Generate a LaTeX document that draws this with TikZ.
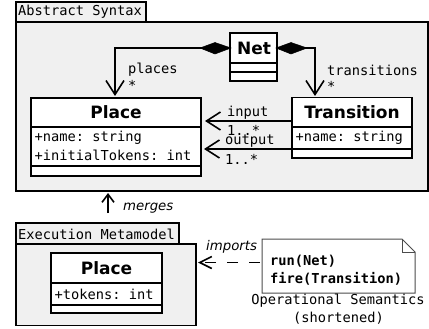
\documentclass[tikz,border=0pt]{standalone}
\usepackage{fontspec}
\setmainfont{DejaVu Sans}
\setmonofont{DejaVu Sans Mono}
\usetikzlibrary{arrows.meta,calc}
\definecolor{pkgfill}{gray}{0.94}
\tikzset{
  x=1pt,y=-1pt,
  pkg/.style={draw=black,line width=1.6pt,fill=pkgfill},
  cls/.style={draw=black,line width=1.6pt,fill=white},
  rule/.style={line width=1.6pt},
  assoc/.style={line width=1.6pt,-{Straight Barb[length=14pt,width=18pt,line width=1.6pt]}},
  dia/.style={fill=black,draw=black,line width=.5pt},
  lab/.style={font=\ttfamily\fontsize{13.7}{15}\selectfont,inner sep=0pt,anchor=west},
  ttl/.style={font=\bfseries\fontsize{17}{19}\selectfont,inner sep=0pt},
  it/.style={font=\itshape\fontsize{13.3}{15}\selectfont,inner sep=0pt},
}
\begin{document}
\begin{tikzpicture}
\useasboundingbox (0,0) rectangle (429,329);
% packages
\draw[pkg] (16,22) rectangle (428,191);
\draw[pkg] (16,2) rectangle (146,22);
\node[lab] (abs) at (18,12) {Abstract Syntax};
\draw[pkg] (16,244) rectangle (196,325.5);
\draw[pkg] (16,223) rectangle (179,244);
\node[lab] (exe) at (18,234) {Execution Metamodel};
% Net
\draw[cls] (230,33) rectangle (277,81);
\draw[rule] (230,63) -- (277,63) (230,72) -- (277,72);
\node[ttl] (net) at (254,48) {Net};
\coordinate (netL) at (230,48);
\coordinate (netR) at (277,48);
% Place
\draw[cls] (31,98) rectangle (201,176);
\draw[rule] (31,127) -- (201,127) (31,166) -- (201,166);
\node[ttl] (place) at (116,112.5) {Place};
\node[lab] (pa) at (34.5,138) {+name: string};
\node[lab] (pb) at (34.5,155) {+initialTokens: int};
% Transition
\draw[cls] (292,97.5) rectangle (412,158);
\draw[rule] (292,127) -- (412,127) (292,149) -- (412,149);
\node[ttl] (trans) at (352,112.5) {Transition};
\node[lab] (ta) at (295.5,138) {+name: string};
% Place 2
\draw[cls] (51,253) rectangle (162,313);
\draw[rule] (51,283) -- (162,283) (51,305) -- (162,305);
\node[ttl] (placeb) at (106.5,268) {Place};
\node[lab] (pc) at (54.5,294) {+tokens: int};
% Note
\draw[draw=black!70!white,line width=1pt,fill=white] (262,239) -- (402,239) -- (415,252) -- (415,293) -- (262,293) -- cycle;
\draw[draw=black!70!white,line width=1pt] (402,239) -- (402,252) -- (415,252);
\node[lab,font=\ttfamily\bfseries\fontsize{13.7}{15}\selectfont] (run) at (270,261) {run(Net)};
\node[lab,font=\ttfamily\bfseries\fontsize{13.7}{15}\selectfont] (fire) at (270,278.5) {fire(Transition)};
\node[lab,anchor=center] (os) at (338,301) {Operational Semantics};
\node[lab,anchor=center] (sh) at (338.5,318) {(shortened)};
% compositions
\coordinate (placeT) at (115,96);
\coordinate (transT) at (315,96);
\draw[assoc] (netL) -- (115,48) -- (placeT);
\draw[assoc] (netR) -- (315,48) -- (transT);
\draw[dia] (231,48) -- (215,42.5) -- (200,48) -- (215,54) -- cycle;
\draw[dia] (276,48) -- (291,42.5) -- (307,48) -- (291,54) -- cycle;
\node[lab] (lp) at (128,70) {places};
\node[lab] (ls) at (128,85) {*};
\node[lab] (lt) at (327,70) {transitions};
\node[lab] (lts) at (327,86) {*};
% input output
\coordinate (inT) at (292,121);
\coordinate (inP) at (205,121);
\coordinate (outT) at (292,149);
\coordinate (outP) at (204,149);
\draw[assoc] (inT) -- (inP);
\draw[assoc] (outT) -- (outP);
\node[lab] (li) at (227,113) {input};
\node[lab] (l1) at (227,130) {1..*};
\node[lab] (lo) at (225,141.5) {output};
\node[lab] (l2) at (225,159) {1..*};
% merges
\coordinate (mA) at (108,213);
\coordinate (mB) at (108,193);
\draw[line width=1.6pt,-{Straight Barb[length=8pt,width=12pt,line width=1.6pt]}] (mA) -- (mB);
\node[it,anchor=west] (merges) at (123,208) {merges};
% imports
\coordinate (iA) at (262,262.5);
\coordinate (iB) at (198,262.5);
\draw[line width=1.6pt,dash pattern=on 11pt off 11pt,dash phase=20pt,-{Straight Barb[length=12pt,width=12pt,line width=1.6pt]}] (iA) -- (iB);
\node[it,anchor=west] (imports) at (206,247) {imports};
\end{tikzpicture}
\end{document}
